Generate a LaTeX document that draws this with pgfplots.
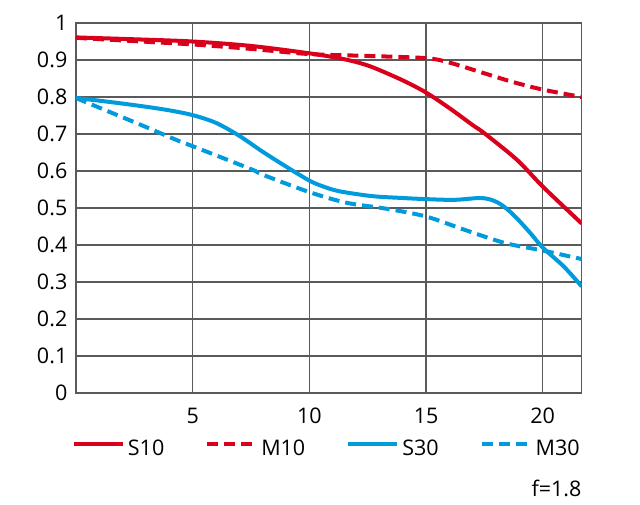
\documentclass[border=0pt]{standalone}
\usepackage{fontspec}
\setmainfont{Open Sans}
\usepackage{pgfplots}
\pgfplotsset{compat=1.18}
\definecolor{mred}{RGB}{218,0,28}
\definecolor{mblue}{RGB}{0,155,220}
\definecolor{mgrid}{RGB}{90,90,90}
\begin{document}
\begin{tikzpicture}[x=1pt,y=1pt]
\useasboundingbox (-76,-112) rectangle (564,393);
\begin{axis}[
  at={(0,0)}, anchor=south west,
  scale only axis, width=505.7pt, height=370pt,
  clip mode=individual,
  xmin=0, xmax=21.67, ymin=0, ymax=1,
  xtick={5,10,15,20}, ytick={0,0.1,...,1.01},
  major tick length=0pt,
  grid=major,
  major grid style={line width=1.2pt, color=mgrid},
  axis line style={line width=1.2pt, color=mgrid},
  /pgf/number format/assume math mode=true,
  ticklabel style={font=\fontsize{21.5}{26}\selectfont, text=black},
  yticklabel style={inner sep=0pt, xshift=-8.5pt},
  xticklabel style={inner sep=0pt, yshift=-15pt},
  legend columns=4,
  legend style={at={(axis description cs:-0.0085,-0.151)}, anchor=west,
    draw=none, fill=none, inner sep=0pt,
    font=\fontsize{21.5}{26}\selectfont,
    nodes={inner sep=0pt},
    /tikz/every odd column/.append style={column sep=3pt},
    /tikz/every even column/.append style={column sep=41pt}},
  legend image code/.code={\draw[#1, yshift=0.9ex] (0pt,0pt) -- (49pt,0pt);},
]
\addplot[mred, line width=4pt, smooth] coordinates {
(0,0.961) (2.5,0.956) (5,0.950) (7.5,0.938) (10,0.918) (11.5,0.902) (12.6,0.883) (14,0.845) (15,0.812) (16,0.770) (17,0.724) (17.5,0.702) (18.9,0.63) (20,0.558) (21.67,0.458)
};
\addlegendentry{S10}
\addplot[mred, line width=4pt, smooth, dash pattern=on 11pt off 6pt] coordinates {
(0,0.960) (2.5,0.951) (5,0.942) (7.5,0.930) (10,0.916) (12.5,0.911) (15,0.905) (16,0.893) (17.5,0.864) (18.75,0.84) (20,0.82) (21.67,0.80)
};
\addlegendentry{M10}
\addplot[mblue, line width=4pt, smooth] coordinates {
(0,0.797) (1,0.790) (2.5,0.778) (3.9,0.765) (5,0.751) (6,0.730) (7,0.695) (8,0.652) (9,0.612) (10,0.574) (10.6,0.558) (11.3,0.545) (12.7,0.532) (14,0.527) (15,0.524) (16.2,0.522) (17.3,0.527) (17.8,0.522) (18.2,0.51) (18.6,0.49) (19,0.465) (19.5,0.43) (20,0.393) (20.9,0.342) (21.67,0.288)
};
\addlegendentry{S30}
\addplot[mblue, line width=4pt, smooth, dash pattern=on 11pt off 6pt] coordinates {
(0,0.797) (2.5,0.732) (4.45,0.68) (5,0.667) (7.5,0.605) (8,0.590) (10,0.543) (11.6,0.514) (13.3,0.498) (15,0.477) (16.7,0.44) (18.4,0.405) (20,0.385) (21.67,0.362)
};
\addlegendentry{M30}
\node[anchor=base east, inner sep=0pt, font=\fontsize{21.5}{26}\selectfont] at (axis description cs:1,-0.281) {f=1.8};
\end{axis}
\end{tikzpicture}
\end{document}
